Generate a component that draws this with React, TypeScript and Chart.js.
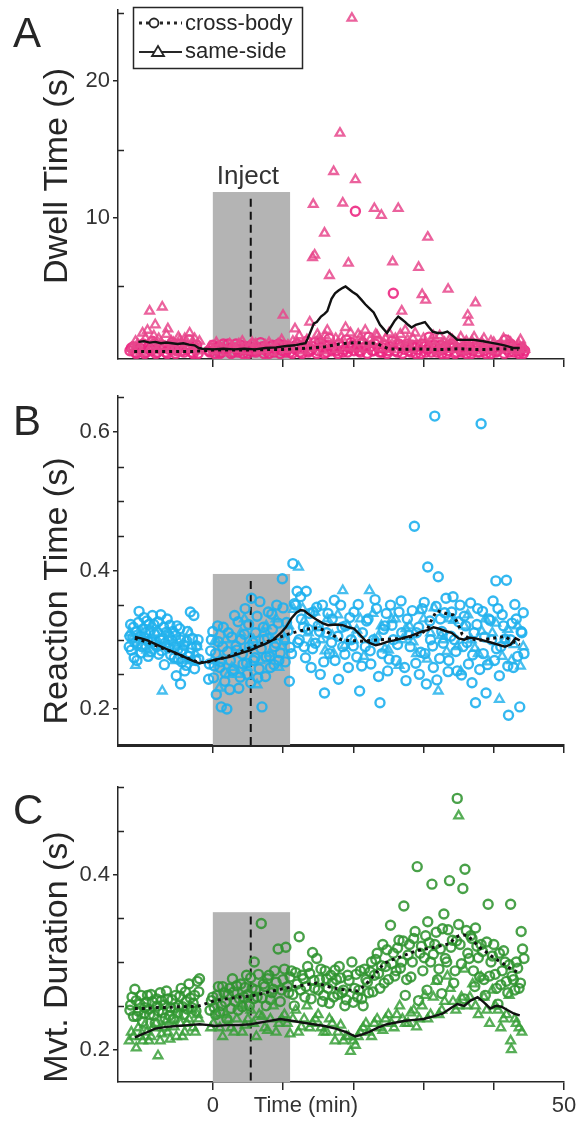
import React, { useEffect, useRef } from "react";
import { Chart, registerables } from "chart.js";

Chart.register(...registerables);

const FONT = "'Liberation Sans', Arial, Helvetica, sans-serif";
const INK = "#262626";

// ---------- shared x axis ----------
const X_MIN = -13.5;
const X_MAX = 50;
const X_TICKS = [0, 10, 20, 30, 40, 50];
const X_TICK_LABELS = ["0", "", "", "", "", "50"];
const X_TITLE = "Time (min)";
const INJECT_START = 0;
const INJECT_END = 11;
const INJECT_MARK = 5.4;
const INJECT_LABEL = "Inject";
const LEGEND_LABELS = ["cross-body", "same-side"];

// ---------- Panel A : Dwell time ----------
const A_Y_TICKS = [5, 10, 15, 20, 25];
const A_Y_LABELS = ["", "10", "", "20", ""];
const A_CROSS: [number, number][] = [
  [-11.8, 0.3], [-11.3, 0.6], [-10.9, 0.1], [-10.4, 0.5], [-9.9, 0.8], [-9.5, 0.2], [-9.0, 0.4], [-8.6, 1.0],
  [-8.1, 0.1], [-7.6, 0.5], [-7.2, 0.7], [-6.7, 0.2], [-6.2, 0.4], [-5.8, 0.9], [-5.3, 0.1], [-4.8, 0.5],
  [-4.4, 0.3], [-3.9, 0.6], [-3.4, 1.1], [-3.0, 0.2], [-2.5, 0.4], [-2.1, 0.1],
  [-0.6, 0.3], [-0.2, 0.5], [0.3, 0.1], [0.8, 0.6], [1.2, 0.2], [1.7, 0.4], [2.2, 0.8], [2.6, 0.1],
  [3.1, 0.5], [3.6, 0.2], [4.0, 0.7], [4.5, 0.4], [5.0, 0.1], [5.4, 0.6], [5.9, 0.3], [6.4, 0.5],
  [6.8, 0.9], [7.3, 0.1], [7.8, 0.4], [8.2, 0.6], [8.7, 0.2], [9.2, 0.5], [9.6, 0.1], [10.1, 0.7],
  [10.6, 0.4], [11.0, 0.2], [11.5, 0.6], [12.0, 0.8], [12.4, 0.2], [12.9, 0.5], [13.4, 1.0], [13.8, 0.3],
  [14.3, 0.6], [14.8, 0.1], [15.2, 0.9], [15.7, 0.5], [16.2, 0.2], [16.6, 1.2], [17.1, 0.6], [17.6, 0.3],
  [18.0, 0.8], [18.5, 0.2], [19.0, 1.1], [19.4, 0.5], [19.9, 0.7], [20.3, 10.5], [20.8, 0.3], [21.3, 0.9],
  [21.7, 0.6], [22.2, 1.3], [22.7, 0.3], [23.1, 0.8], [23.6, 0.5], [24.1, 0.2], [24.5, 0.7], [25.0, 0.3],
  [25.5, 1.0], [25.7, 4.5], [26.3, 0.2], [26.8, 0.6], [27.3, 0.4], [27.7, 0.8], [28.2, 0.2], [28.7, 0.5],
  [29.1, 0.7], [29.6, 0.1], [30.1, 0.6], [30.5, 0.4], [30.8, 1.3], [31.4, 0.5], [31.9, 0.2], [32.4, 0.7],
  [32.8, 0.4], [33.3, 0.1], [33.8, 0.6], [34.2, 0.5], [34.7, 0.2], [35.2, 0.8], [35.6, 0.4], [36.1, 0.1],
  [36.6, 0.6], [37.0, 0.3], [37.5, 0.7], [38.0, 0.2], [38.4, 0.5], [38.9, 0.1], [39.4, 0.6], [39.8, 0.4],
  [40.3, 0.2], [40.8, 0.7], [41.2, 0.5], [41.7, 1.1], [42.2, 0.2], [42.6, 0.6], [43.1, 0.4], [43.6, 0.1],
  [44.0, 0.5], [44.4, 0.3],
  [-11.6, 0.5], [-11.0, 0.2], [-10.2, 0.7], [-9.7, 0.1], [-9.2, 0.6], [-8.8, 0.3], [-8.3, 0.8], [-7.9, 0.2],
  [-7.4, 0.4], [-6.9, 0.6], [-6.5, 0.1], [-6.0, 0.7], [-5.5, 0.4], [-5.1, 0.3], [-4.6, 0.8], [-4.1, 0.2],
  [-3.7, 0.4], [-3.2, 0.6], [-2.8, 0.1], [-2.3, 0.7],
  [-0.4, 0.2], [0.0, 0.7], [0.5, 0.4], [1.0, 0.1], [1.5, 0.8], [1.9, 0.3], [2.4, 0.5], [2.9, 0.2], [3.3, 0.8],
  [3.8, 0.4], [4.3, 0.1], [4.8, 0.6], [5.2, 0.3], [5.7, 0.8], [6.1, 0.2], [6.6, 0.4], [7.1, 0.6], [7.6, 0.3],
  [8.0, 0.1], [8.5, 0.7], [9.0, 0.4], [9.4, 0.8], [9.9, 0.3], [10.4, 0.2], [10.8, 0.6], [11.3, 0.1], [11.8, 0.4],
  [12.2, 0.6], [12.7, 0.1], [13.1, 0.7], [13.6, 0.2], [14.1, 0.4], [14.5, 0.9], [15.0, 0.3], [15.5, 0.6],
  [15.9, 0.1], [16.4, 0.7], [16.9, 0.3], [17.3, 0.5], [17.8, 0.1], [18.3, 0.6], [18.7, 0.4], [19.2, 0.2],
  [19.7, 0.9], [20.1, 0.3], [20.6, 0.6], [21.0, 0.2], [21.5, 0.5], [22.0, 0.1], [22.4, 0.6], [22.9, 0.3],
  [23.4, 1.0], [23.8, 0.2], [24.3, 0.5], [24.8, 0.1], [25.2, 0.6], [25.9, 0.3], [26.5, 0.8], [27.0, 0.1],
  [27.5, 0.6], [27.9, 0.3], [28.4, 0.7], [28.9, 0.1], [29.3, 0.4], [29.8, 0.8], [30.3, 0.2], [30.7, 0.5],
  [31.1, 0.2], [31.6, 0.7], [32.1, 0.4], [32.6, 0.1], [33.1, 0.6], [33.5, 0.3], [34.0, 0.8], [34.5, 0.1],
  [34.9, 0.5], [35.4, 0.2], [35.9, 0.6], [36.3, 0.4], [36.8, 0.1], [37.3, 0.5], [37.7, 0.2], [38.2, 0.8],
  [38.7, 0.3], [39.1, 0.6], [39.6, 0.1], [40.0, 0.5], [40.5, 0.3], [41.0, 0.6], [41.5, 0.1], [41.9, 0.4],
  [42.4, 0.8], [42.9, 0.2], [43.3, 0.5], [43.8, 0.3], [44.2, 0.1],
];
const A_SAME: [number, number][] = [
  [-11.6, 0.5], [-11.0, 1.0], [-10.5, 0.4], [-10.0, 1.6], [-9.3, 1.8], [-9.0, 3.2], [-8.6, 0.7], [-8.2, 2.2],
  [-7.7, 1.2], [-7.2, 3.5], [-6.8, 0.6], [-6.4, 1.9], [-5.9, 1.0], [-5.4, 0.4], [-4.9, 1.3], [-4.5, 0.8],
  [-4.0, 1.2], [-3.6, 0.5], [-3.3, 1.6], [-2.8, 0.9], [-2.3, 0.6], [-1.9, 1.0],
  [-0.4, 0.6], [0.5, 0.9], [1.4, 0.5], [2.4, 0.8], [3.3, 0.4], [4.2, 1.0], [5.2, 0.6], [6.1, 0.8],
  [7.0, 0.4], [8.0, 0.9], [8.9, 0.6], [9.8, 1.1], [10.0, 2.9], [10.7, 0.7], [11.4, 1.0], [11.7, 1.9],
  [12.3, 1.4], [13.0, 0.8], [13.8, 2.4], [14.2, 7.1], [14.3, 11.0], [14.5, 7.3], [14.9, 1.5], [15.4, 0.9],
  [15.9, 8.9], [16.3, 1.8], [16.6, 5.8], [17.2, 13.4], [17.5, 1.2], [18.1, 16.2], [18.5, 11.1], [18.9, 2.0],
  [19.3, 6.7], [19.8, 24.6], [20.3, 12.8], [20.7, 1.5], [21.2, 0.9], [21.7, 1.8], [22.4, 1.1], [23.0, 10.7],
  [23.4, 1.4], [24.0, 10.2], [24.4, 0.8], [25.1, 1.6], [25.6, 6.8], [26.0, 1.2], [26.4, 10.7], [26.9, 3.2],
  [27.4, 1.8], [27.9, 0.7], [28.5, 1.2], [29.3, 6.4], [29.8, 4.4], [30.3, 4.0], [30.6, 8.6], [31.1, 1.0],
  [31.7, 0.6], [32.3, 1.4], [33.0, 0.9], [33.5, 4.8], [34.1, 1.1], [34.7, 0.6], [35.3, 1.3], [35.9, 0.8],
  [36.3, 2.9], [36.4, 2.4], [36.9, 1.0], [37.4, 3.8], [38.0, 0.7], [38.6, 1.2], [39.3, 0.5], [40.0, 0.9],
  [40.7, 0.6], [41.4, 1.2], [42.1, 1.0], [42.8, 0.5], [43.5, 0.8], [44.2, 0.6],
  [-11.3, 0.3], [-10.7, 0.8], [-10.2, 0.2], [-9.6, 1.2], [-8.9, 0.5], [-8.4, 1.4], [-7.9, 0.3], [-7.4, 0.9],
  [-6.6, 1.5], [-6.1, 0.4], [-5.6, 0.9], [-5.1, 0.2], [-4.7, 1.1], [-4.2, 0.4], [-3.8, 0.8], [-3.0, 0.4],
  [-2.6, 1.2], [-2.1, 0.3],
  [0.0, 0.3], [0.9, 0.6], [1.9, 0.2], [2.8, 0.6], [3.7, 0.8], [4.7, 0.3], [5.6, 0.9], [6.5, 0.3], [7.5, 0.7],
  [8.4, 0.2], [9.3, 0.8], [10.3, 0.4], [11.1, 0.5], [12.0, 0.9], [12.7, 0.3], [13.4, 1.1], [14.0, 0.5],
  [15.1, 1.2], [15.6, 0.3], [16.0, 1.4], [16.8, 0.7], [17.7, 0.4], [18.3, 1.3], [19.1, 0.6], [19.6, 1.6],
  [20.5, 0.5], [21.0, 1.3], [21.9, 0.4], [22.7, 0.8], [23.2, 1.5], [23.8, 0.5], [24.6, 1.2], [25.4, 0.4],
  [26.2, 0.9], [26.7, 1.5], [27.2, 0.5], [27.7, 1.1], [28.2, 0.4], [28.8, 1.6], [29.5, 0.6], [30.0, 1.2],
  [30.9, 0.5], [31.4, 1.4], [32.0, 0.3], [32.6, 0.8], [33.3, 0.4], [33.8, 1.2], [34.4, 0.4], [35.0, 0.9],
  [35.6, 0.3], [36.1, 1.0], [36.7, 0.4], [37.2, 1.3], [37.7, 0.3], [38.3, 0.9], [38.9, 0.4], [39.6, 1.0],
  [40.3, 0.3], [41.0, 0.8], [41.7, 0.4], [42.4, 0.9], [43.1, 0.3], [43.8, 1.1], [44.4, 0.4],
];
const A_CROSS_AVG: [number, number][] = [
  [-11.2, 0.25], [-9, 0.25], [-7, 0.25], [-5, 0.25], [-3, 0.25], [-1.5, 0.3], [0, 0.35], [2, 0.35],
  [4, 0.35], [6, 0.35], [8, 0.4], [10, 0.4], [12, 0.45], [14, 0.5], [16, 0.6], [17.5, 0.75],
  [19, 0.85], [20.5, 0.9], [22, 0.85], [23.3, 0.85], [24.3, 0.6], [25, 0.45], [27, 0.4], [29, 0.45],
  [31, 0.4], [33, 0.4], [35, 0.45], [37, 0.4], [39, 0.4], [41, 0.45], [43.5, 0.4],
];
const A_SAME_AVG: [number, number][] = [
  [-10.6, 0.95], [-9.8, 1.0], [-9.0, 0.9], [-8.2, 0.95], [-7.4, 0.85], [-6.6, 0.9], [-5.8, 0.85], [-5.0, 0.8],
  [-4.2, 0.85], [-3.4, 0.75], [-2.6, 0.7], [-2.0, 0.5], [-1.5, 0.45], [0, 0.4], [1.5, 0.45], [3, 0.4],
  [4.5, 0.45], [6, 0.4], [7.5, 0.5], [9, 0.55], [10.5, 0.65], [11.7, 0.7], [12.6, 0.8], [13.2, 0.85],
  [13.6, 1.3], [14.4, 2.3], [14.8, 2.4], [15.4, 2.8], [15.9, 3.0], [16.3, 3.2], [16.9, 4.1], [17.4, 4.5],
  [17.9, 4.7], [18.5, 4.9], [18.9, 5.0], [19.4, 4.8], [19.9, 4.6], [20.5, 4.4], [21.2, 4.0], [21.7, 3.7],
  [22.3, 3.4], [22.9, 3.1], [23.4, 2.6], [23.8, 2.2], [24.3, 1.9], [24.8, 1.6], [25.3, 2.0], [25.9, 2.5],
  [26.4, 2.8], [26.9, 2.6], [27.4, 2.4], [27.8, 2.2], [28.3, 2.0], [28.9, 2.2], [29.6, 2.3], [30.2, 2.4],
  [30.8, 2.0], [31.3, 1.7], [32.0, 1.6], [32.8, 1.6], [33.4, 1.7], [33.9, 1.5], [34.4, 1.3], [34.8, 1.1],
  [35.8, 1.1], [37.2, 1.1], [38.5, 1.0], [39.5, 0.9], [40.5, 0.8], [41.5, 0.7], [42.9, 0.5], [43.7, 0.5],
];

// ---------- Panel B : Reaction time ----------
const B_Y_TICKS = [0.2, 0.25, 0.3, 0.35, 0.4, 0.45, 0.5, 0.55, 0.6, 0.65];
const B_Y_LABELS = ["0.2", "", "", "", "0.4", "", "", "", "0.6", ""];
const B_CROSS: [number, number][] = [
  [-11.8, 0.305], [-11.6, 0.285], [-11.3, 0.318], [-11.1, 0.296], [-10.8, 0.27], [-10.6, 0.325], [-10.3, 0.305],
  [-10.1, 0.29], [-9.8, 0.332], [-9.6, 0.31], [-9.3, 0.298], [-9.1, 0.322], [-8.8, 0.283], [-8.6, 0.335],
  [-8.3, 0.308], [-8.0, 0.29], [-7.8, 0.326], [-7.5, 0.3], [-7.3, 0.284], [-7.0, 0.318], [-6.8, 0.295],
  [-6.5, 0.33], [-6.2, 0.305], [-6.0, 0.278], [-5.7, 0.312], [-5.4, 0.29], [-5.2, 0.248], [-5.1, 0.32],
  [-4.9, 0.272], [-4.6, 0.236], [-4.6, 0.3], [-4.3, 0.285], [-4.0, 0.255], [-3.7, 0.298], [-3.5, 0.276],
  [-3.2, 0.34], [-3.0, 0.288], [-2.7, 0.335], [-2.4, 0.27], [-2.1, 0.3],
  [-0.5, 0.265], [-0.2, 0.3], [0.1, 0.245], [0.4, 0.28], [0.7, 0.32], [1.0, 0.26], [1.2, 0.203], [1.4, 0.29],
  [1.7, 0.24], [2.0, 0.2], [2.2, 0.31], [2.5, 0.27], [2.8, 0.255], [3.1, 0.335], [3.4, 0.285], [3.7, 0.23],
  [4.0, 0.3], [4.3, 0.265], [4.6, 0.345], [4.9, 0.25], [5.2, 0.29], [5.5, 0.36], [5.8, 0.27], [6.1, 0.31],
  [6.4, 0.245], [6.7, 0.355], [7.0, 0.203], [7.3, 0.3], [7.6, 0.275], [7.9, 0.34], [8.2, 0.26], [8.5, 0.315],
  [8.8, 0.29], [9.1, 0.35], [9.4, 0.27], [9.9, 0.388], [10.2, 0.3], [10.5, 0.325], [10.9, 0.24], [11.2, 0.28],
  [11.4, 0.41], [11.8, 0.35], [12.0, 0.37], [12.3, 0.3], [12.6, 0.33], [13.0, 0.29], [13.3, 0.37], [13.6, 0.315],
  [14.0, 0.26], [14.3, 0.34], [14.6, 0.295], [15.0, 0.32], [15.3, 0.25], [15.6, 0.35], [15.9, 0.223], [16.2, 0.31],
  [16.6, 0.28], [17.0, 0.33], [17.4, 0.27], [17.8, 0.305], [18.2, 0.35], [18.5, 0.29], [18.9, 0.32], [19.3, 0.26],
  [19.7, 0.3], [20.1, 0.34], [20.5, 0.275], [20.9, 0.226], [21.3, 0.31], [21.7, 0.29], [22.1, 0.33], [22.5, 0.265],
  [22.9, 0.3], [23.3, 0.345], [23.8, 0.209], [24.1, 0.28], [24.5, 0.32], [24.9, 0.255], [25.3, 0.35], [25.7, 0.3],
  [26.1, 0.27], [26.5, 0.34], [26.9, 0.31], [27.3, 0.26], [27.7, 0.33], [28.1, 0.29], [28.7, 0.464], [29.0, 0.31],
  [29.4, 0.25], [29.8, 0.345], [30.2, 0.28], [30.6, 0.405], [31.0, 0.3], [31.4, 0.26], [31.6, 0.623], [31.9, 0.242],
  [32.1, 0.391], [32.4, 0.33], [32.8, 0.295], [33.2, 0.36], [33.6, 0.27], [34.0, 0.34], [34.4, 0.3], [34.8, 0.255],
  [35.2, 0.35], [35.6, 0.29], [36.0, 0.32], [36.4, 0.265], [36.9, 0.238], [37.2, 0.31], [37.4, 0.209], [37.7, 0.345],
  [38.2, 0.612], [38.5, 0.28], [38.9, 0.223], [39.3, 0.33], [39.7, 0.3], [40.1, 0.27], [40.3, 0.385], [40.6, 0.345],
  [41.0, 0.29], [41.4, 0.32], [41.8, 0.386], [42.1, 0.191], [42.4, 0.3], [42.8, 0.26], [43.2, 0.33], [43.7, 0.203],
  [44.0, 0.31], [44.3, 0.28],
  [-11.9, 0.29], [-11.7, 0.322], [-11.4, 0.303], [-11.2, 0.274], [-10.9, 0.311], [-10.7, 0.294], [-10.5, 0.341],
  [-10.2, 0.281], [-9.9, 0.316], [-9.7, 0.302], [-9.4, 0.327], [-9.2, 0.276], [-8.9, 0.313], [-8.7, 0.298],
  [-8.4, 0.322], [-8.2, 0.293], [-7.9, 0.311], [-7.7, 0.279], [-7.4, 0.336], [-7.1, 0.302], [-6.9, 0.264],
  [-6.6, 0.311], [-6.3, 0.288], [-6.1, 0.321], [-5.8, 0.299], [-5.5, 0.274], [-5.3, 0.306], [-5.0, 0.286],
  [-4.7, 0.316], [-4.4, 0.268], [-4.1, 0.292], [-3.8, 0.263], [-3.6, 0.312], [-3.3, 0.281], [-2.9, 0.302],
  [-2.6, 0.258], [-2.3, 0.291], [-2.0, 0.272],
  [-0.6, 0.243], [-0.3, 0.284], [0.0, 0.312], [0.2, 0.262], [0.5, 0.221], [0.8, 0.297], [1.1, 0.268], [1.5, 0.318],
  [1.8, 0.252], [2.1, 0.283], [2.4, 0.228], [2.7, 0.304], [3.0, 0.257], [3.3, 0.291], [3.6, 0.326], [3.9, 0.246],
  [4.2, 0.279], [4.5, 0.308], [4.8, 0.266], [5.1, 0.322], [5.4, 0.238], [5.7, 0.296], [6.0, 0.274], [6.3, 0.334],
  [6.6, 0.258], [6.9, 0.287], [7.2, 0.318], [7.5, 0.247], [7.8, 0.302], [8.1, 0.276], [8.4, 0.337], [8.7, 0.264],
  [9.0, 0.295], [9.3, 0.324], [9.6, 0.281], [10.0, 0.346], [10.3, 0.268], [10.7, 0.313], [11.0, 0.289],
  [11.6, 0.352], [12.1, 0.296], [12.5, 0.362], [12.9, 0.318], [13.2, 0.274], [13.8, 0.338], [14.2, 0.287],
  [14.8, 0.347], [15.2, 0.312], [15.8, 0.268], [16.4, 0.338], [16.9, 0.296], [17.3, 0.357], [17.9, 0.243],
  [18.4, 0.318], [18.8, 0.279], [19.5, 0.332], [20.0, 0.291], [20.7, 0.351], [21.2, 0.262], [21.9, 0.327],
  [22.4, 0.284], [23.1, 0.358], [23.6, 0.247], [24.3, 0.315], [24.7, 0.338], [25.1, 0.272], [25.5, 0.321],
  [26.3, 0.293], [26.8, 0.356], [27.5, 0.241], [27.9, 0.307], [28.4, 0.342], [28.9, 0.266], [29.3, 0.318],
  [29.6, 0.282], [30.1, 0.354], [30.4, 0.236], [30.9, 0.327], [31.3, 0.291], [31.8, 0.348], [32.3, 0.273],
  [32.6, 0.312], [33.0, 0.339], [33.5, 0.254], [33.9, 0.305], [34.2, 0.362], [34.6, 0.283], [35.0, 0.326],
  [35.4, 0.249], [35.8, 0.334], [36.2, 0.296], [36.7, 0.353], [37.0, 0.278], [37.6, 0.322], [38.0, 0.257],
  [38.4, 0.341], [38.7, 0.304], [39.1, 0.264], [39.5, 0.328], [39.9, 0.356], [40.4, 0.287], [40.8, 0.248],
  [41.2, 0.336], [41.6, 0.301], [42.0, 0.262], [42.6, 0.324], [43.0, 0.351], [43.4, 0.276], [43.9, 0.312],
  [44.2, 0.339],
];
const B_SAME: [number, number][] = [
  [-11.5, 0.3], [-11.0, 0.263], [-10.2, 0.312], [-9.4, 0.285], [-8.5, 0.32], [-7.6, 0.295], [-7.2, 0.226],
  [-6.6, 0.31], [-5.8, 0.288], [-5.0, 0.3], [-4.2, 0.27], [-3.3, 0.31], [-2.5, 0.28],
  [0.0, 0.27], [0.9, 0.23], [1.8, 0.3], [2.7, 0.26], [3.6, 0.25], [4.5, 0.33], [5.4, 0.29], [6.3, 0.235],
  [7.2, 0.31], [8.1, 0.28], [9.0, 0.33], [9.8, 0.29], [10.8, 0.32], [12.2, 0.405], [12.8, 0.345], [13.6, 0.31],
  [14.5, 0.34], [15.4, 0.3], [16.3, 0.33], [17.2, 0.28], [18.5, 0.371], [19.2, 0.32], [20.0, 0.3], [21.0, 0.33],
  [22.3, 0.371], [23.0, 0.3], [24.0, 0.32], [25.0, 0.285], [26.0, 0.33], [27.0, 0.3], [28.0, 0.32], [29.0, 0.28],
  [30.0, 0.33], [31.0, 0.31], [32.1, 0.226], [32.8, 0.3], [33.8, 0.33], [34.8, 0.29], [35.8, 0.32], [36.8, 0.3],
  [37.8, 0.28], [38.8, 0.33], [39.8, 0.31], [40.8, 0.214], [41.6, 0.3], [42.5, 0.27], [43.4, 0.32], [44.2, 0.29],
  [-11.8, 0.31], [-10.6, 0.29], [-9.8, 0.3], [-9.0, 0.28], [-8.1, 0.31], [-7.0, 0.29], [-6.2, 0.3], [-5.4, 0.27],
  [-4.6, 0.29], [-3.8, 0.3], [-2.9, 0.27], [-2.2, 0.29], [0.4, 0.3], [1.3, 0.27], [2.2, 0.25], [3.1, 0.28],
  [4.0, 0.31], [4.9, 0.26], [5.8, 0.3], [6.7, 0.27], [7.6, 0.32], [8.5, 0.3], [9.4, 0.26], [10.3, 0.3],
  [11.5, 0.344], [13.0, 0.327], [14.0, 0.296], [15.0, 0.318], [16.0, 0.284], [17.0, 0.306], [17.8, 0.336],
  [18.8, 0.292], [20.5, 0.314], [21.5, 0.276], [22.8, 0.338], [23.5, 0.304], [24.5, 0.287], [25.5, 0.329],
  [26.5, 0.263], [27.5, 0.316], [28.5, 0.297], [29.5, 0.342], [30.5, 0.272], [31.5, 0.346], [32.5, 0.306],
  [33.3, 0.283], [34.3, 0.328], [35.3, 0.254], [36.3, 0.336], [37.3, 0.288], [38.3, 0.312], [39.3, 0.268],
  [40.3, 0.324], [41.2, 0.276], [42.0, 0.315], [42.9, 0.293], [43.8, 0.262],
];
const B_CROSS_AVG: [number, number][] = [
  [-11.1, 0.302], [-9.5, 0.297], [-8, 0.291], [-6.5, 0.285], [-5, 0.279], [-3.5, 0.273], [-2.2, 0.268],
  [-1.2, 0.267], [0.2, 0.27], [1.5, 0.274], [3, 0.279], [4.5, 0.285], [5.4, 0.289], [6.8, 0.294], [8.2, 0.299],
  [9.6, 0.304], [11, 0.309], [12.5, 0.313], [13.8, 0.316], [15, 0.317], [16, 0.313], [17.2, 0.306], [18.3, 0.3],
  [19.5, 0.299], [21, 0.298], [22.5, 0.299], [24, 0.3], [25.5, 0.301], [27, 0.302], [28.5, 0.305], [29.8, 0.31],
  [30.6, 0.316], [31.2, 0.33], [31.9, 0.342], [32.6, 0.34], [33.4, 0.337], [34.2, 0.336], [34.8, 0.325],
  [35.5, 0.308], [36.5, 0.302], [37.9, 0.299], [39.2, 0.301], [40.5, 0.303], [41.6, 0.305], [42.6, 0.298],
  [43.7, 0.293],
];
const B_SAME_AVG: [number, number][] = [
  [-11.1, 0.304], [-10.2, 0.302], [-9.3, 0.299], [-8.0, 0.293], [-6.7, 0.287], [-5.3, 0.281], [-4.0, 0.275],
  [-2.9, 0.27], [-1.9, 0.266], [-0.8, 0.268], [0.2, 0.271], [1.3, 0.273], [2.3, 0.275], [3.8, 0.28], [5.4, 0.285],
  [6.5, 0.29], [7.5, 0.294], [8.6, 0.3], [9.6, 0.309], [10.4, 0.318], [11.2, 0.331], [11.9, 0.339], [12.5, 0.343],
  [13.0, 0.342], [13.5, 0.338], [14.2, 0.333], [14.8, 0.329], [15.6, 0.324], [16.4, 0.321], [17.5, 0.322],
  [18.5, 0.321], [19.3, 0.318], [20.1, 0.316], [20.9, 0.308], [21.7, 0.299], [22.4, 0.295], [23.2, 0.292],
  [24.0, 0.294], [24.8, 0.297], [25.8, 0.299], [26.9, 0.302], [28.0, 0.305], [29.0, 0.309], [29.8, 0.312],
  [30.6, 0.314], [31.4, 0.318], [32.2, 0.316], [33.0, 0.313], [34.0, 0.31], [35.0, 0.302], [35.8, 0.3],
  [36.6, 0.303], [37.4, 0.302], [38.5, 0.299], [39.6, 0.296], [40.6, 0.293], [41.6, 0.29], [42.4, 0.293],
  [43.1, 0.302], [43.7, 0.299],
];

// ---------- Panel C : Movement duration ----------
const C_Y_TICKS = [0.2, 0.25, 0.3, 0.35, 0.4, 0.45, 0.5];
const C_Y_LABELS = ["0.2", "", "", "", "0.4", "", ""];
const C_CROSS: [number, number][] = [
  [-11.8, 0.245], [-11.5, 0.26], [-11.1, 0.269], [-10.8, 0.238], [-10.4, 0.252], [-10.0, 0.232], [-9.7, 0.248],
  [-9.3, 0.262], [-9.0, 0.24], [-8.6, 0.255], [-8.2, 0.23], [-7.9, 0.25], [-7.5, 0.265], [-7.1, 0.242],
  [-6.8, 0.236], [-6.4, 0.258], [-6.0, 0.248], [-5.6, 0.235], [-5.3, 0.262], [-4.9, 0.25], [-4.5, 0.27],
  [-4.1, 0.24], [-3.8, 0.255], [-3.4, 0.275], [-3.0, 0.248], [-2.6, 0.262], [-2.2, 0.278], [-1.9, 0.281],
  [-0.4, 0.245], [0.0, 0.26], [0.4, 0.24], [0.8, 0.272], [1.2, 0.25], [1.6, 0.265], [2.0, 0.235], [2.4, 0.27],
  [2.8, 0.281], [3.2, 0.255], [3.6, 0.245], [4.0, 0.275], [4.4, 0.26], [4.8, 0.285], [5.2, 0.25], [5.6, 0.27],
  [5.9, 0.3], [6.3, 0.26], [6.9, 0.344], [7.2, 0.275], [7.6, 0.25], [8.0, 0.285], [8.4, 0.265], [8.8, 0.29],
  [9.3, 0.315], [9.6, 0.255], [10.0, 0.28], [10.4, 0.317], [10.8, 0.265], [11.2, 0.29], [11.6, 0.25], [12.0, 0.275],
  [12.3, 0.329], [12.7, 0.285], [13.1, 0.26], [13.5, 0.295], [14.2, 0.311], [14.5, 0.27], [14.8, 0.304], [15.2, 0.28],
  [15.6, 0.255], [16.0, 0.29], [16.4, 0.27], [16.8, 0.285], [17.2, 0.26], [17.6, 0.28], [18.0, 0.295], [18.4, 0.265],
  [18.8, 0.25], [19.2, 0.285], [19.8, 0.3], [20.2, 0.27], [20.6, 0.26], [21.0, 0.29], [21.4, 0.25], [21.8, 0.28],
  [22.2, 0.265], [22.6, 0.3], [23.0, 0.285], [23.4, 0.31], [23.8, 0.27], [24.2, 0.32], [24.6, 0.295], [25.0, 0.28],
  [25.3, 0.342], [25.7, 0.31], [26.1, 0.29], [26.5, 0.325], [26.9, 0.3], [27.2, 0.364], [27.6, 0.28], [28.0, 0.32],
  [28.4, 0.3], [28.8, 0.335], [29.1, 0.409], [29.5, 0.31], [29.9, 0.29], [30.3, 0.33], [30.6, 0.346], [31.0, 0.3],
  [31.2, 0.389], [31.6, 0.32], [32.0, 0.28], [32.4, 0.315], [32.7, 0.338], [32.9, 0.355], [33.3, 0.3], [33.7, 0.393],
  [34.1, 0.325], [34.5, 0.29], [34.8, 0.487], [35.2, 0.32], [35.6, 0.384], [35.9, 0.406], [36.3, 0.31], [36.7, 0.33],
  [37.1, 0.29], [37.4, 0.339], [37.8, 0.305], [38.2, 0.32], [38.6, 0.28], [39.2, 0.366], [39.6, 0.3], [40.0, 0.32],
  [40.4, 0.27], [40.8, 0.31], [41.2, 0.29], [41.6, 0.3], [42.0, 0.265], [42.4, 0.366], [42.8, 0.28], [43.2, 0.3],
  [43.6, 0.27], [43.9, 0.335], [44.1, 0.315],
  [-11.7, 0.251], [-11.3, 0.238], [-10.9, 0.256], [-10.6, 0.244], [-10.2, 0.262], [-9.8, 0.241], [-9.5, 0.254],
  [-9.1, 0.246], [-8.8, 0.263], [-8.4, 0.239], [-8.0, 0.258], [-7.7, 0.244], [-7.3, 0.256], [-6.9, 0.251],
  [-6.6, 0.267], [-6.2, 0.239], [-5.8, 0.257], [-5.4, 0.248], [-5.0, 0.242], [-4.7, 0.261], [-4.3, 0.249],
  [-3.9, 0.266], [-3.6, 0.246], [-3.2, 0.259], [-2.8, 0.253], [-2.4, 0.244], [-2.0, 0.266],
  [-0.2, 0.256], [0.2, 0.248], [0.6, 0.262], [1.0, 0.243], [1.4, 0.272], [1.8, 0.254], [2.2, 0.263], [2.6, 0.247],
  [3.0, 0.266], [3.4, 0.273], [3.8, 0.258], [4.2, 0.249], [4.6, 0.271], [5.0, 0.263], [5.4, 0.282], [5.8, 0.258],
  [6.1, 0.268], [6.5, 0.286], [7.0, 0.259], [7.4, 0.272], [7.8, 0.281], [8.2, 0.257], [8.6, 0.269], [9.0, 0.277],
  [9.8, 0.268], [10.2, 0.292], [10.6, 0.272], [11.0, 0.283], [11.4, 0.263], [11.8, 0.288], [12.5, 0.268],
  [12.9, 0.281], [13.3, 0.272], [13.8, 0.287], [14.0, 0.258], [14.4, 0.279], [15.0, 0.268], [15.4, 0.292],
  [15.8, 0.262], [16.2, 0.281], [16.6, 0.253], [17.0, 0.276], [17.4, 0.291], [17.8, 0.263], [18.2, 0.282],
  [18.6, 0.268], [19.0, 0.257], [19.4, 0.279], [20.0, 0.254], [20.4, 0.286], [20.8, 0.268], [21.2, 0.258],
  [21.6, 0.292], [22.0, 0.277], [22.4, 0.289], [22.8, 0.266],
  [23.2, 0.303], [23.6, 0.287], [24.0, 0.296], [24.4, 0.276], [24.8, 0.314], [25.5, 0.298], [25.9, 0.284],
  [26.3, 0.316], [26.7, 0.293], [27.1, 0.324], [27.4, 0.262], [27.8, 0.308], [28.2, 0.283], [28.6, 0.327],
  [29.3, 0.256], [29.7, 0.318], [30.1, 0.305], [30.5, 0.268], [30.8, 0.322], [31.4, 0.309], [31.8, 0.334],
  [32.2, 0.292], [32.6, 0.264], [33.1, 0.304], [33.5, 0.337], [33.9, 0.317], [34.3, 0.276], [34.7, 0.324],
  [35.0, 0.343], [35.4, 0.298], [35.8, 0.258], [36.1, 0.336], [36.5, 0.304], [36.9, 0.327], [37.3, 0.272],
  [37.6, 0.318], [38.0, 0.283], [38.4, 0.312], [38.8, 0.262], [39.0, 0.323], [39.4, 0.284], [39.8, 0.307],
  [40.2, 0.286], [40.6, 0.252], [41.0, 0.274], [41.4, 0.313], [41.8, 0.278], [42.2, 0.297], [42.6, 0.284],
  [43.0, 0.268], [43.4, 0.293], [43.8, 0.276], [44.3, 0.304],
];
const C_SAME: [number, number][] = [
  [-11.6, 0.22], [-10.9, 0.202], [-10.3, 0.215], [-9.7, 0.228], [-9.1, 0.21], [-8.5, 0.225], [-7.8, 0.193],
  [-7.3, 0.218], [-6.7, 0.232], [-6.1, 0.212], [-5.5, 0.226], [-4.9, 0.24], [-4.3, 0.215], [-3.7, 0.23],
  [-3.1, 0.245], [-2.5, 0.22], [-2.0, 0.235],
  [-0.3, 0.225], [0.6, 0.24], [1.4, 0.215], [2.2, 0.235], [3.0, 0.22], [3.8, 0.25], [4.6, 0.228], [5.4, 0.245],
  [6.2, 0.215], [7.0, 0.238], [7.8, 0.222], [8.6, 0.25], [9.4, 0.23], [10.2, 0.24], [11.0, 0.218], [11.8, 0.245],
  [12.6, 0.226], [13.4, 0.25], [14.2, 0.23], [15.0, 0.24], [15.8, 0.22], [16.6, 0.235], [17.4, 0.21], [18.2, 0.228],
  [19.0, 0.215], [19.6, 0.198], [20.3, 0.205], [21.0, 0.22], [21.8, 0.23], [22.6, 0.215], [23.4, 0.235], [24.2, 0.222],
  [25.0, 0.24], [25.8, 0.225], [26.6, 0.25], [27.4, 0.23], [28.2, 0.242], [29.0, 0.226], [29.8, 0.25], [30.6, 0.235],
  [31.4, 0.26], [32.2, 0.24], [33.0, 0.255], [33.8, 0.27], [34.6, 0.245], [35.0, 0.467], [35.4, 0.26], [36.2, 0.25],
  [37.0, 0.275], [37.8, 0.24], [38.6, 0.26], [39.4, 0.23], [40.2, 0.25], [41.0, 0.225], [41.8, 0.24], [42.4, 0.21],
  [42.5, 0.2], [43.2, 0.23], [44.0, 0.22],
  [-11.9, 0.21], [-11.3, 0.215], [-10.6, 0.225], [-10.0, 0.21], [-9.4, 0.22], [-8.8, 0.215], [-8.1, 0.23],
  [-7.5, 0.21], [-7.0, 0.225], [-6.4, 0.22], [-5.8, 0.235], [-5.2, 0.215], [-4.6, 0.23], [-4.0, 0.22],
  [-3.4, 0.235], [-2.8, 0.225], [-2.2, 0.24],
  [0.1, 0.23], [1.0, 0.225], [1.8, 0.24], [2.6, 0.225], [3.4, 0.235], [4.2, 0.22], [5.0, 0.235], [5.8, 0.23],
  [6.6, 0.24], [7.4, 0.225], [8.2, 0.235], [9.0, 0.22], [9.8, 0.235], [10.6, 0.23], [11.4, 0.235], [12.2, 0.22],
  [13.0, 0.235], [13.8, 0.225], [14.6, 0.235], [15.4, 0.225], [16.2, 0.22], [17.0, 0.23], [17.8, 0.22], [18.6, 0.21],
  [19.3, 0.215], [20.0, 0.21], [20.7, 0.215], [21.4, 0.225], [22.2, 0.22], [23.0, 0.23], [23.8, 0.225], [24.6, 0.235],
  [25.4, 0.23], [26.2, 0.24], [27.0, 0.235], [27.8, 0.23], [28.6, 0.245], [29.4, 0.235], [30.2, 0.262], [31.0, 0.24],
  [31.8, 0.278], [32.6, 0.245], [33.4, 0.284], [34.2, 0.255], [35.0, 0.25], [35.8, 0.292], [36.6, 0.26], [37.4, 0.25],
  [38.2, 0.283], [39.0, 0.245], [39.8, 0.268], [40.6, 0.245], [41.4, 0.235], [42.2, 0.262], [43.0, 0.235], [43.6, 0.225],
];
const C_CROSS_AVG: [number, number][] = [
  [-11.1, 0.247], [-9.5, 0.247], [-8, 0.248], [-6.5, 0.248], [-5, 0.249], [-3.5, 0.249], [-1.9, 0.25], [-0.8, 0.253],
  [0.2, 0.256], [2, 0.258], [3.7, 0.26], [5.4, 0.261], [7.5, 0.265], [9.6, 0.269], [11.5, 0.272], [13.2, 0.274],
  [14.8, 0.276], [16.4, 0.272], [18.0, 0.269], [19.3, 0.268], [20.6, 0.267], [21.4, 0.272], [22.2, 0.278],
  [23.3, 0.288], [24.3, 0.298], [25.3, 0.302], [26.4, 0.305], [27.7, 0.309], [29.0, 0.313], [30.3, 0.315],
  [31.6, 0.317], [32.6, 0.319], [33.7, 0.321], [34.4, 0.327], [35.0, 0.33], [35.7, 0.331], [36.3, 0.33],
  [37.1, 0.324], [37.9, 0.317], [39.0, 0.311], [40.0, 0.305], [41.0, 0.3], [42.1, 0.294], [43.0, 0.29], [43.7, 0.287],
];
const C_SAME_AVG: [number, number][] = [
  [-11.1, 0.214], [-9.6, 0.219], [-8.2, 0.224], [-6.6, 0.226], [-5.1, 0.227], [-3.5, 0.228], [-1.9, 0.229],
  [-0.5, 0.228], [0.2, 0.227], [2, 0.228], [3.7, 0.228], [5.4, 0.229], [7.5, 0.232], [9.6, 0.235], [11.2, 0.233],
  [12.7, 0.231], [14.3, 0.229], [15.9, 0.227], [17.5, 0.224], [19.0, 0.22], [20.3, 0.215], [21.2, 0.217],
  [22.2, 0.22], [23.5, 0.225], [24.8, 0.229], [26.1, 0.231], [27.4, 0.233], [28.7, 0.234], [30.0, 0.235],
  [31.4, 0.238], [32.7, 0.241], [33.8, 0.247], [34.8, 0.252], [35.8, 0.25], [36.7, 0.256], [37.7, 0.26],
  [38.6, 0.254], [39.5, 0.247], [40.3, 0.25], [41.1, 0.249], [42.0, 0.245], [42.9, 0.241], [43.7, 0.239],
];

type Pt = [number, number];
type PanelSpec = {
  key: string;
  top: number;
  height: number;
  chartTop: number;
  chartBottom: number;
  yMin: number;
  yMax: number;
  yTicks: number[];
  yLabels: string[];
  letter: string;
  letterBaseline: number;
  title: string;
  titleY: number;
  grayTop: number;
  dashTop: number;
  xBorder: number;
  showXLabels: boolean;
  circleColor: string;
  triColor: string;
  cross: Pt[];
  same: Pt[];
  crossAvg: Pt[];
  sameAvg: Pt[];
  legend: boolean;
};

const PANELS: PanelSpec[] = [
  {
    key: "A", top: 0, height: 380, chartTop: 10, chartBottom: 359, yMin: -0.3, yMax: 25.2,
    yTicks: A_Y_TICKS, yLabels: A_Y_LABELS, letter: "A", letterBaseline: 47, title: "Dwell Time (s)", titleY: 176,
    grayTop: 11.9, dashTop: 11.4, xBorder: 1.5, showXLabels: false,
    circleColor: "rgba(236, 40, 130, 0.9)", triColor: "rgba(232, 70, 140, 0.85)",
    cross: A_CROSS, same: A_SAME, crossAvg: A_CROSS_AVG, sameAvg: A_SAME_AVG, legend: true,
  },
  {
    key: "B", top: 380, height: 380, chartTop: 16, chartBottom: 365, yMin: 0.148, yMax: 0.652,
    yTicks: B_Y_TICKS, yLabels: B_Y_LABELS, letter: "B", letterBaseline: 55, title: "Reaction Time (s)", titleY: 211,
    grayTop: 0.395, dashTop: 0.385, xBorder: 3, showXLabels: false,
    circleColor: "rgba(30, 176, 238, 0.9)", triColor: "rgba(40, 180, 236, 0.85)",
    cross: B_CROSS, same: B_SAME, crossAvg: B_CROSS_AVG, sameAvg: B_SAME_AVG, legend: false,
  },
  {
    key: "C", top: 760, height: 363, chartTop: 27, chartBottom: 322, yMin: 0.163, yMax: 0.5,
    yTicks: C_Y_TICKS, yLabels: C_Y_LABELS, letter: "C", letterBaseline: 64, title: "Mvt. Duration (s)", titleY: 197,
    grayTop: 0.357, dashTop: 0.352, xBorder: 1.5, showXLabels: true,
    circleColor: "rgba(48, 148, 48, 0.88)", triColor: "rgba(58, 160, 58, 0.85)",
    cross: C_CROSS, same: C_SAME, crossAvg: C_CROSS_AVG, sameAvg: C_SAME_AVG, legend: false,
  },
];

const toXY = (arr: Pt[]) => arr.map(([x, y]) => ({ x, y }));

function makeDecor(spec: PanelSpec) {
  return {
    id: "decor" + spec.key,
    beforeDatasetsDraw(chart: any) {
      const { ctx, chartArea } = chart;
      const xs = chart.scales.x;
      const ys = chart.scales.y;
      const x0 = xs.getPixelForValue(INJECT_START);
      const x1 = xs.getPixelForValue(INJECT_END);
      const yt = ys.getPixelForValue(spec.grayTop);
      ctx.save();
      ctx.fillStyle = "#b4b4b4";
      ctx.fillRect(x0, yt, x1 - x0, chartArea.bottom - yt);
      const xm = xs.getPixelForValue(INJECT_MARK);
      ctx.strokeStyle = "#111";
      ctx.lineWidth = 2;
      ctx.setLineDash([8, 5]);
      ctx.beginPath();
      ctx.moveTo(xm, ys.getPixelForValue(spec.dashTop));
      ctx.lineTo(xm, chartArea.bottom);
      ctx.stroke();
      ctx.restore();
    },
    afterDraw(chart: any) {
      const { ctx, chartArea } = chart;
      const xs = chart.scales.x;
      const ys = chart.scales.y;
      ctx.save();
      ctx.strokeStyle = INK;
      ctx.lineWidth = 1.5;
      spec.yTicks.forEach((v, i) => {
        if (spec.yLabels[i]) return;
        const y = Math.round(ys.getPixelForValue(v)) + 0.5;
        ctx.beginPath();
        ctx.moveTo(chartArea.left, y);
        ctx.lineTo(chartArea.left + 6, y);
        ctx.stroke();
      });
      ctx.fillStyle = INK;
      ctx.font = `42px ${FONT}`;
      ctx.textAlign = "left";
      ctx.textBaseline = "alphabetic";
      ctx.fillText(spec.letter, 13, spec.letterBaseline);
      ctx.save();
      ctx.translate(58, spec.titleY);
      ctx.rotate(-Math.PI / 2);
      ctx.font = `34px ${FONT}`;
      ctx.textAlign = "center";
      ctx.textBaseline = "middle";
      ctx.fillText(spec.title, 0, 0);
      ctx.restore();
      if (spec.legend) {
        ctx.font = `26px ${FONT}`;
        ctx.textAlign = "center";
        ctx.textBaseline = "alphabetic";
        ctx.fillStyle = "#333";
        ctx.fillText(INJECT_LABEL, xs.getPixelForValue(5.0), 184);
        ctx.fillStyle = "#fff";
        ctx.fillRect(133, 7, 169, 61);
        ctx.strokeStyle = INK;
        ctx.lineWidth = 1.5;
        ctx.strokeRect(133.5, 7.5, 169, 61);
        ctx.lineWidth = 3;
        ctx.setLineDash([3, 4]);
        ctx.beginPath();
        ctx.moveTo(139, 23);
        ctx.lineTo(182, 23);
        ctx.stroke();
        ctx.setLineDash([]);
        ctx.fillStyle = "#fff";
        ctx.beginPath();
        ctx.arc(154, 23, 4.5, 0, Math.PI * 2);
        ctx.fill();
        ctx.lineWidth = 1.8;
        ctx.stroke();
        ctx.lineWidth = 1.8;
        ctx.beginPath();
        ctx.moveTo(139, 52);
        ctx.lineTo(182, 52);
        ctx.stroke();
        ctx.beginPath();
        ctx.moveTo(158, 46);
        ctx.lineTo(164, 56);
        ctx.lineTo(152, 56);
        ctx.closePath();
        ctx.fillStyle = "#fff";
        ctx.fill();
        ctx.stroke();
        ctx.fillStyle = INK;
        ctx.font = `22px ${FONT}`;
        ctx.textAlign = "left";
        ctx.textBaseline = "middle";
        ctx.fillText(LEGEND_LABELS[0], 185, 24);
        ctx.fillText(LEGEND_LABELS[1], 185, 52);
      }
      if (spec.showXLabels) {
        ctx.fillStyle = "#333";
        ctx.font = `22px ${FONT}`;
        ctx.textAlign = "center";
        ctx.textBaseline = "middle";
        ctx.fillText(X_TITLE, 306, 346);
      }
      ctx.restore();
    },
  };
}

function makeConfig(spec: PanelSpec): any {
  return {
    type: "scatter",
    data: {
      datasets: [
        {
          label: LEGEND_LABELS[1] + " avg",
          data: toXY(spec.sameAvg),
          showLine: true,
          borderColor: "#111",
          borderWidth: 2.4,
          pointRadius: 0,
          order: 0,
        },
        {
          label: LEGEND_LABELS[0] + " avg",
          data: toXY(spec.crossAvg),
          showLine: true,
          borderColor: "#111",
          borderWidth: 3,
          borderDash: [3, 4],
          pointRadius: 0,
          order: 0,
        },
        {
          label: LEGEND_LABELS[1],
          data: toXY(spec.same),
          pointStyle: "triangle",
          pointRadius: 5,
          pointBorderWidth: 2.3,
          borderColor: spec.triColor,
          backgroundColor: "rgba(0,0,0,0)",
          order: 1,
        },
        {
          label: LEGEND_LABELS[0],
          data: toXY(spec.cross),
          pointStyle: "circle",
          pointRadius: 4.5,
          pointBorderWidth: 2.4,
          borderColor: spec.circleColor,
          backgroundColor: "rgba(0,0,0,0)",
          order: 1,
        },
      ],
    },
    options: {
      responsive: false,
      animation: false,
      devicePixelRatio: 1,
      events: [],
      layout: { padding: { top: spec.chartTop, right: 12, left: 0, bottom: 0 } },
      plugins: { legend: { display: false }, tooltip: { enabled: false }, title: { display: false } },
      scales: {
        x: {
          type: "linear",
          min: X_MIN,
          max: X_MAX,
          afterBuildTicks: (s: any) => {
            s.ticks = X_TICKS.map((v) => ({ value: v }));
          },
          afterFit: (s: any) => {
            s.height = spec.height - spec.chartBottom;
            s.paddingLeft = 0;
            s.paddingRight = 0;
          },
          border: { display: true, color: INK, width: spec.xBorder },
          grid: { display: true, drawOnChartArea: false, drawTicks: true, tickLength: 8, color: INK, lineWidth: 1.5 },
          ticks: {
            display: spec.showXLabels,
            autoSkip: false,
            maxRotation: 0,
            padding: 3,
            color: "#333",
            font: { family: FONT, size: 22 },
            callback: (_v: any, i: number) => X_TICK_LABELS[i],
          },
        },
        y: {
          type: "linear",
          min: spec.yMin,
          max: spec.yMax,
          afterBuildTicks: (s: any) => {
            s.ticks = spec.yTicks.map((v) => ({ value: v }));
          },
          afterFit: (s: any) => {
            s.width = 118;
            s.paddingTop = 0;
            s.paddingBottom = 0;
          },
          border: { display: true, color: INK, width: 1.5 },
          grid: {
            display: true,
            drawOnChartArea: false,
            drawTicks: true,
            tickLength: 5,
            lineWidth: 1.5,
            color: (c: any) => (spec.yLabels[c.index] ? INK : "rgba(0,0,0,0)"),
          },
          ticks: {
            autoSkip: false,
            padding: 3,
            color: "#333",
            font: { family: FONT, size: 22 },
            callback: (_v: any, i: number) => spec.yLabels[i],
          },
        },
      },
    },
    plugins: [makeDecor(spec)],
  };
}

function Panel({ spec }: { spec: PanelSpec }) {
  const ref = useRef<HTMLCanvasElement>(null);
  useEffect(() => {
    if (!ref.current) return;
    const chart = new Chart(ref.current, makeConfig(spec));
    return () => chart.destroy();
  }, [spec]);
  return (
    <canvas
      ref={ref}
      width={576}
      height={spec.height}
      style={{ position: "absolute", left: 0, top: spec.top, width: 576, height: spec.height, display: "block" }}
    />
  );
}

export default function App() {
  return (
    <div style={{ position: "absolute", left: 0, top: 0, width: 576, height: 1123, background: "#fff", overflow: "hidden" }}>
      {PANELS.map((p) => (
        <Panel key={p.key} spec={p} />
      ))}
    </div>
  );
}
